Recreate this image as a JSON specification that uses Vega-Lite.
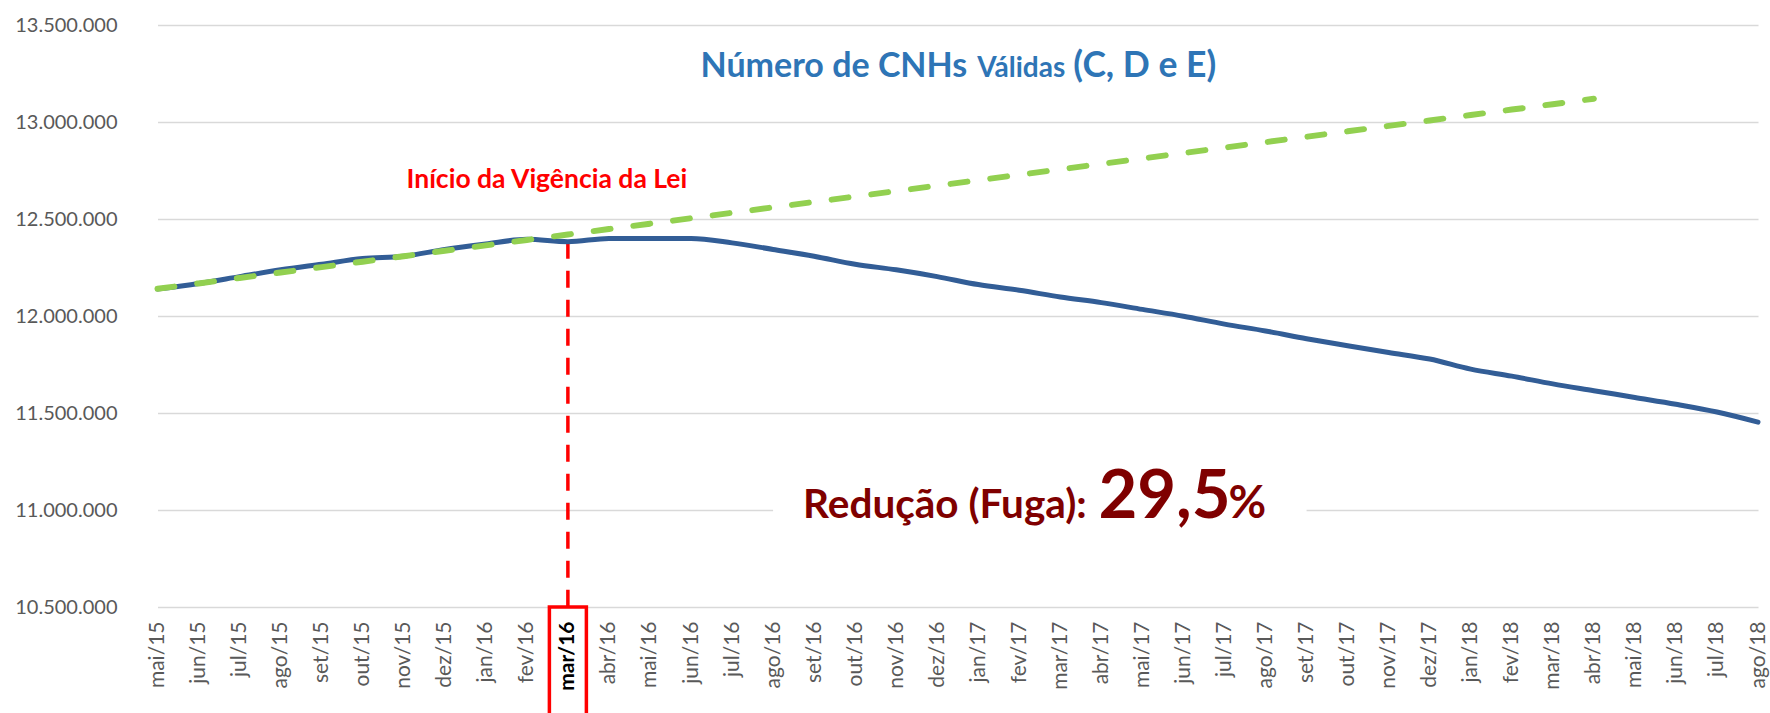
{
  "$schema": "https://vega.github.io/schema/vega-lite/v6.json",
  "width": 1633,
  "height": 582,
  "autosize": {"type": "none"},
  "padding": {"left": 137, "top": 25, "right": 0, "bottom": 106},
  "background": "white",
  "config": {"view": {"stroke": null}, "font": "Lato"},
  "datasets": {
    "cnh": [
      {"mes": "mai/15", "valor": 12139000},
      {"mes": "jun/15", "valor": 12168000},
      {"mes": "jul/15", "valor": 12203000},
      {"mes": "ago/15", "valor": 12238000},
      {"mes": "set/15", "valor": 12267000},
      {"mes": "out/15", "valor": 12296000},
      {"mes": "nov/15", "valor": 12308000},
      {"mes": "dez/15", "valor": 12343000},
      {"mes": "jan/16", "valor": 12371000},
      {"mes": "fev/16", "valor": 12395000},
      {"mes": "mar/16", "valor": 12383000},
      {"mes": "abr/16", "valor": 12400000},
      {"mes": "mai/16", "valor": 12400000},
      {"mes": "jun/16", "valor": 12400000},
      {"mes": "jul/16", "valor": 12377000},
      {"mes": "ago/16", "valor": 12343000},
      {"mes": "set/16", "valor": 12308000},
      {"mes": "out/16", "valor": 12267000},
      {"mes": "nov/16", "valor": 12238000},
      {"mes": "dez/16", "valor": 12203000},
      {"mes": "jan/17", "valor": 12162000},
      {"mes": "fev/17", "valor": 12133000},
      {"mes": "mar/17", "valor": 12098000},
      {"mes": "abr/17", "valor": 12069000},
      {"mes": "mai/17", "valor": 12034000},
      {"mes": "jun/17", "valor": 11999000},
      {"mes": "jul/17", "valor": 11958000},
      {"mes": "ago/17", "valor": 11923000},
      {"mes": "set/17", "valor": 11883000},
      {"mes": "out/17", "valor": 11847000},
      {"mes": "nov/17", "valor": 11812000},
      {"mes": "dez/17", "valor": 11778000},
      {"mes": "jan/18", "valor": 11726000},
      {"mes": "fev/18", "valor": 11690000},
      {"mes": "mar/18", "valor": 11650000},
      {"mes": "abr/18", "valor": 11615000},
      {"mes": "mai/18", "valor": 11580000},
      {"mes": "jun/18", "valor": 11545000},
      {"mes": "jul/18", "valor": 11505000},
      {"mes": "ago/18", "valor": 11453000}
    ],
    "tendencia": [
      {"mes": "mai/15", "valor": 12140000},
      {"mes": "jun/15", "valor": 12168000},
      {"mes": "jul/15", "valor": 12196000},
      {"mes": "ago/15", "valor": 12224000},
      {"mes": "set/15", "valor": 12252000},
      {"mes": "out/15", "valor": 12280000},
      {"mes": "nov/15", "valor": 12308000},
      {"mes": "dez/15", "valor": 12336000},
      {"mes": "jan/16", "valor": 12364000},
      {"mes": "fev/16", "valor": 12392000},
      {"mes": "mar/16", "valor": 12420000},
      {"mes": "abr/16", "valor": 12448000},
      {"mes": "mai/16", "valor": 12476000},
      {"mes": "jun/16", "valor": 12504000},
      {"mes": "jul/16", "valor": 12532000},
      {"mes": "ago/16", "valor": 12560000},
      {"mes": "set/16", "valor": 12588000},
      {"mes": "out/16", "valor": 12616000},
      {"mes": "nov/16", "valor": 12644000},
      {"mes": "dez/16", "valor": 12672000},
      {"mes": "jan/17", "valor": 12700000},
      {"mes": "fev/17", "valor": 12728000},
      {"mes": "mar/17", "valor": 12756000},
      {"mes": "abr/17", "valor": 12784000},
      {"mes": "mai/17", "valor": 12812000},
      {"mes": "jun/17", "valor": 12840000},
      {"mes": "jul/17", "valor": 12868000},
      {"mes": "ago/17", "valor": 12896000},
      {"mes": "set/17", "valor": 12924000},
      {"mes": "out/17", "valor": 12952000},
      {"mes": "nov/17", "valor": 12980000},
      {"mes": "dez/17", "valor": 13008000},
      {"mes": "jan/18", "valor": 13036000},
      {"mes": "fev/18", "valor": 13064000},
      {"mes": "mar/18", "valor": 13092000},
      {"mes": "abr/18", "valor": 13120000}
    ]
  },
  "encoding": {
    "x": {
      "field": "mes",
      "type": "ordinal",
      "scale": {
        "type": "point",
        "padding": 0,
        "range": [20.5, 1621],
        "domain": ["mai/15","jun/15","jul/15","ago/15","set/15","out/15","nov/15","dez/15","jan/16","fev/16","mar/16","abr/16","mai/16","jun/16","jul/16","ago/16","set/16","out/16","nov/16","dez/16","jan/17","fev/17","mar/17","abr/17","mai/17","jun/17","jul/17","ago/17","set/17","out/17","nov/17","dez/17","jan/18","fev/18","mar/18","abr/18","mai/18","jun/18","jul/18","ago/18"]
      },
      "axis": {
        "title": null,
        "ticks": false,
        "domain": false,
        "grid": false,
        "labelAngle": -90,
        "labelPadding": 14,
        "labelFont": "Lato",
        "labelFontSize": 21,
        "labelOverlap": false,
        "labelColor": {"condition": {"test": "datum.value === 'mar/16'", "value": "#000000"}, "value": "#595959"},
        "labelFontWeight": {"condition": {"test": "datum.value === 'mar/16'", "value": "bold"}, "value": "normal"}
      }
    },
    "y": {
      "field": "valor",
      "type": "quantitative",
      "scale": {"domain": [10500000, 13500000], "nice": false, "zero": false},
      "axis": {
        "title": null,
        "values": [10500000, 11000000, 11500000, 12000000, 12500000, 13000000, 13500000],
        "labelExpr": "replace(format(datum.value, ',d'), regexp(',', 'g'), '.')",
        "ticks": false,
        "domain": false,
        "labelPadding": 20,
        "labelFont": "Lato",
        "labelFontSize": 20,
        "labelColor": "#595959",
        "grid": true,
        "gridColor": "#D9D9D9",
        "gridWidth": 1.5
      }
    }
  },
  "layer": [
    {
      "data": {"values": [{"mes": "ago/16", "mes2": "set/17", "valor": 11080000, "valor2": 10900000}]},
      "mark": {"type": "rect", "fill": "white"},
      "encoding": {"x2": {"field": "mes2"}, "y2": {"field": "valor2"}}
    },
    {
      "data": {"values": [{"mes": "mar/16", "valor": 12383000, "valor2": 10500000}]},
      "mark": {"type": "rule", "color": "#FF0000", "strokeWidth": 3.5, "strokeDash": [17, 12]},
      "encoding": {"y2": {"field": "valor2"}}
    },
    {
      "data": {"values": [{"mes": "mar/16", "valor": 10500000, "valor2": 9900000}]},
      "mark": {"type": "bar", "size": 37, "fillOpacity": 0, "stroke": "#FF0000", "strokeWidth": 3.5},
      "encoding": {"y2": {"field": "valor2"}}
    },
    {
      "data": {"name": "cnh"},
      "mark": {"type": "line", "color": "#325D96", "strokeWidth": 5, "strokeCap": "round", "interpolate": "monotone"}
    },
    {
      "data": {"name": "tendencia"},
      "mark": {"type": "line", "color": "#92D050", "strokeWidth": 6, "strokeCap": "round", "strokeDash": [17, 23]}
    },
    {
      "data": {"values": [{"mes": "mar/16", "valor": 12658000, "texto": "Início da Vigência da Lei"}]},
      "mark": {"type": "text", "font": "Lato", "fontWeight": "bold", "fontSize": 26.5, "color": "#FF0000", "align": "center", "baseline": "alphabetic", "dx": -21},
      "encoding": {"text": {"field": "texto"}}
    },
    {
      "data": {"values": [{"mes": "jan/17", "valor": 13230000, "texto": "Número de CNHs"}]},
      "mark": {"type": "text", "font": "Lato", "fontWeight": "bold", "fontSize": 34, "color": "#2E75B6", "align": "right", "baseline": "alphabetic", "dx": -11},
      "encoding": {"text": {"field": "texto"}}
    },
    {
      "data": {"values": [{"mes": "jan/17", "valor": 13230000, "texto": "Válidas"}]},
      "mark": {"type": "text", "font": "Lato", "fontWeight": "bold", "fontSize": 28, "color": "#2E75B6", "align": "left", "baseline": "alphabetic", "dx": -1},
      "encoding": {"text": {"field": "texto"}}
    },
    {
      "data": {"values": [{"mes": "mar/17", "valor": 13230000, "texto": "(C, D e E)"}]},
      "mark": {"type": "text", "font": "Lato", "fontWeight": "bold", "fontSize": 35.5, "color": "#2E75B6", "align": "left", "baseline": "alphabetic", "dx": 13},
      "encoding": {"text": {"field": "texto"}}
    },
    {
      "data": {"values": [{"mes": "set/16", "valor": 10957000, "texto": "Redução (Fuga):"}]},
      "mark": {"type": "text", "font": "Lato", "fontWeight": "bold", "fontSize": 40.5, "color": "#7F0000", "align": "left", "baseline": "alphabetic", "dx": -11},
      "encoding": {"text": {"field": "texto"}}
    },
    {
      "data": {"values": [{"mes": "abr/17", "valor": 10957000, "texto": "29,5"}]},
      "mark": {"type": "text", "font": "Lato", "fontWeight": "bold", "fontSize": 67, "color": "#7F0000", "align": "left", "baseline": "alphabetic", "dx": -3},
      "encoding": {"text": {"field": "texto"}}
    },
    {
      "data": {"values": [{"mes": "jul/17", "valor": 10957000, "texto": "%"}]},
      "mark": {"type": "text", "font": "Lato", "fontWeight": "bold", "fontSize": 46, "color": "#7F0000", "align": "left", "baseline": "alphabetic", "dx": 4},
      "encoding": {"text": {"field": "texto"}}
    }
  ]
}
